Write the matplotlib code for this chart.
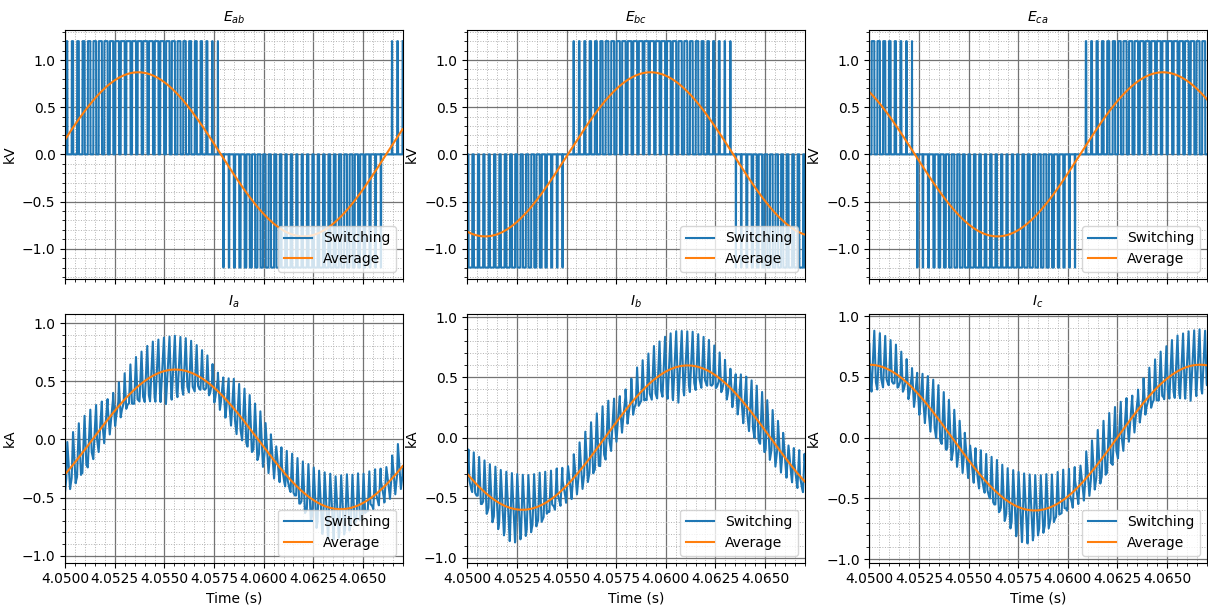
import numpy as np
import matplotlib.pyplot as plt
from matplotlib.ticker import AutoMinorLocator

# values
T_START, T_END = 4.05, 4.067
F_FUND = 60.0          # Hz
F_CARRIER = 3600.0     # Hz, one pulse per carrier period in the line voltages
SIM_STEP = 1e-5        # s, sample step of the switching simulation
V_DC = 1.2             # kV, level of the switched line voltage
E_AMP = 0.87           # kV, peak of the average line voltage
E_PHASE = 0.185        # rad, phase of Eab at T_START
I_AMP = 0.6            # kA, peak of the average phase current
I_PHASE = -0.52        # rad, phase of Ia at T_START
RIPPLE_PEAK = 0.3      # kA

volt_titles = ['$E_{ab}$', '$E_{bc}$', '$E_{ca}$']
curr_titles = ['$I_a$', '$I_b$', '$I_c$']
shifts = [0.0, -2 * np.pi / 3, 2 * np.pi / 3]
curr_ylims = [(-1.06, 1.08), (-1.04, 1.03), (-1.03, 1.02)]

# --- sawtooth-carrier PWM of a 2-level inverter, sampled every SIM_STEP ---
pad = 2.0 / F_CARRIER
t = np.arange(T_START - pad, T_END + pad, SIM_STEP)
th = 2 * np.pi * F_FUND * (t - T_START)
M = E_AMP / (V_DC * np.sqrt(3) / 2)
carrier = 2 * (((t - T_START) * F_CARRIER) % 1.0) - 1

refs = [M * np.sin(th + E_PHASE - np.pi / 6 + s) for s in shifts]
legs = [(r > carrier).astype(float) for r in refs]
e_sw = [V_DC * (legs[k] - legs[(k + 1) % 3]) for k in range(3)]
e_avg = [E_AMP * np.sin(th + E_PHASE + s) for s in shifts]

# current ripple from phase voltage minus its average
common = (legs[0] + legs[1] + legs[2]) / 3
n = int(round(1.0 / (F_CARRIER * SIM_STEP)))
kern = np.ones(n) / n
ripple = []
for k in range(3):
    vn = V_DC * (legs[k] - common) - V_DC * refs[k] / 2
    r = np.cumsum(vn) * SIM_STEP
    r = r - np.convolve(r, kern, mode='same')
    ripple.append(r)
win = (t >= T_START) & (t <= T_END)
scale = RIPPLE_PEAK / max(np.abs(r[win]).max() for r in ripple)
i_avg = [I_AMP * np.sin(th + I_PHASE + s) for s in shifts]
i_sw = [i_avg[k] + scale * ripple[k] for k in range(3)]

fig, axes = plt.subplots(2, 3, figsize=(12.08, 6.09), dpi=100, sharex=True)
fig.subplots_adjust(left=0.054, right=0.999, top=0.951, bottom=0.076,
                    wspace=0.192, hspace=0.14)

for k in range(3):
    ax = axes[0, k]
    ax.plot(t, e_sw[k], label='Switching')
    ax.plot(t, e_avg[k], label='Average')
    ax.set_title(volt_titles[k], fontsize=10)
    ax.set_ylabel('kV')

    ax = axes[1, k]
    ax.plot(t, i_sw[k], label='Switching')
    ax.plot(t, i_avg[k], label='Average')
    ax.set_title(curr_titles[k], fontsize=10)
    ax.set_ylabel('kA')
    ax.set_xlabel('Time (s)')
    ax.set_ylim(*curr_ylims[k])

for ax in axes.flat:
    ax.set_xlim(T_START, T_END)
    ax.xaxis.set_minor_locator(AutoMinorLocator(5))
    ax.yaxis.set_minor_locator(AutoMinorLocator(5))
    ax.grid(which='major', color='0.45', linewidth=0.9)
    ax.grid(which='minor', color='0.7', linestyle=':', linewidth=0.7)
    ax.legend(loc='lower right')

fig.savefig('out.png')
